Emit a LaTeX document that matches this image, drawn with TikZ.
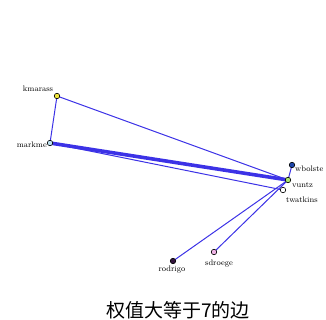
\documentclass[tikz,border=0pt]{standalone}
\usepackage{fontspec}
\newfontfamily\cjk{Noto Sans CJK SC}
\usetikzlibrary{backgrounds}
\begin{document}
\begin{tikzpicture}[x=1pt,y=-1pt,
  vert/.style={circle,draw=black,line width=0.6pt,inner sep=0pt,minimum size=5.5pt},
  lbl/.style={font=\fontsize{8}{9}\selectfont,inner sep=0pt},
  edge/.style={draw={rgb,255:red,60;green,50;blue,230},line width=1pt}]
\useasboundingbox (0,0) rectangle (326,320);
\node[vert,fill={rgb,255:red,240;green,230;blue,60}] (kmarass) at (57,96) {};
\node[vert,fill={rgb,255:red,190;green,225;blue,240}] (markme) at (50,143) {};
\node[vert,fill={rgb,255:red,30;green,70;blue,170}] (wbolste) at (292,165) {};
\node[vert,fill={rgb,255:red,170;green,230;blue,110}] (vuntz) at (288,180) {};
\node[vert,fill=white] (twatkins) at (283,190) {};
\node[vert,fill={rgb,255:red,50;green,20;blue,60}] (rodrigo) at (173,261) {};
\node[vert,fill={rgb,255:red,240;green,180;blue,230}] (sdroege) at (214,252) {};
\begin{scope}[on background layer]
\draw[edge] (kmarass.center) -- (markme.center);
\draw[edge] (kmarass.center) -- (vuntz.center);
\draw[edge,line width=3.6pt] (markme.center) -- (vuntz.center);
\draw[edge] (markme.center) -- (twatkins.center);
\draw[edge] (wbolste.center) -- (vuntz.center);
\draw[edge] (rodrigo.center) -- (vuntz.center);
\draw[edge] (sdroege.center) -- (vuntz.center);
\end{scope}
\node[lbl] (l1) at (38,89) {kmarass};
\node[lbl,anchor=east] (l2) at (47,145) {markme};
\node[lbl,anchor=west] (l3) at (295,169) {wbolste};
\node[lbl,anchor=west] (l4) at (292,185) {vuntz};
\node[lbl,anchor=west] (l5) at (286,200) {twatkins};
\node[lbl] (l6) at (172,270) {rodrigo};
\node[lbl] (l7) at (219,264) {sdroege};
\node[font=\cjk\fontsize{19}{20}\selectfont,inner sep=0pt] (cap) at (178,310) {权值大等于7的边};
\end{tikzpicture}
\end{document}
